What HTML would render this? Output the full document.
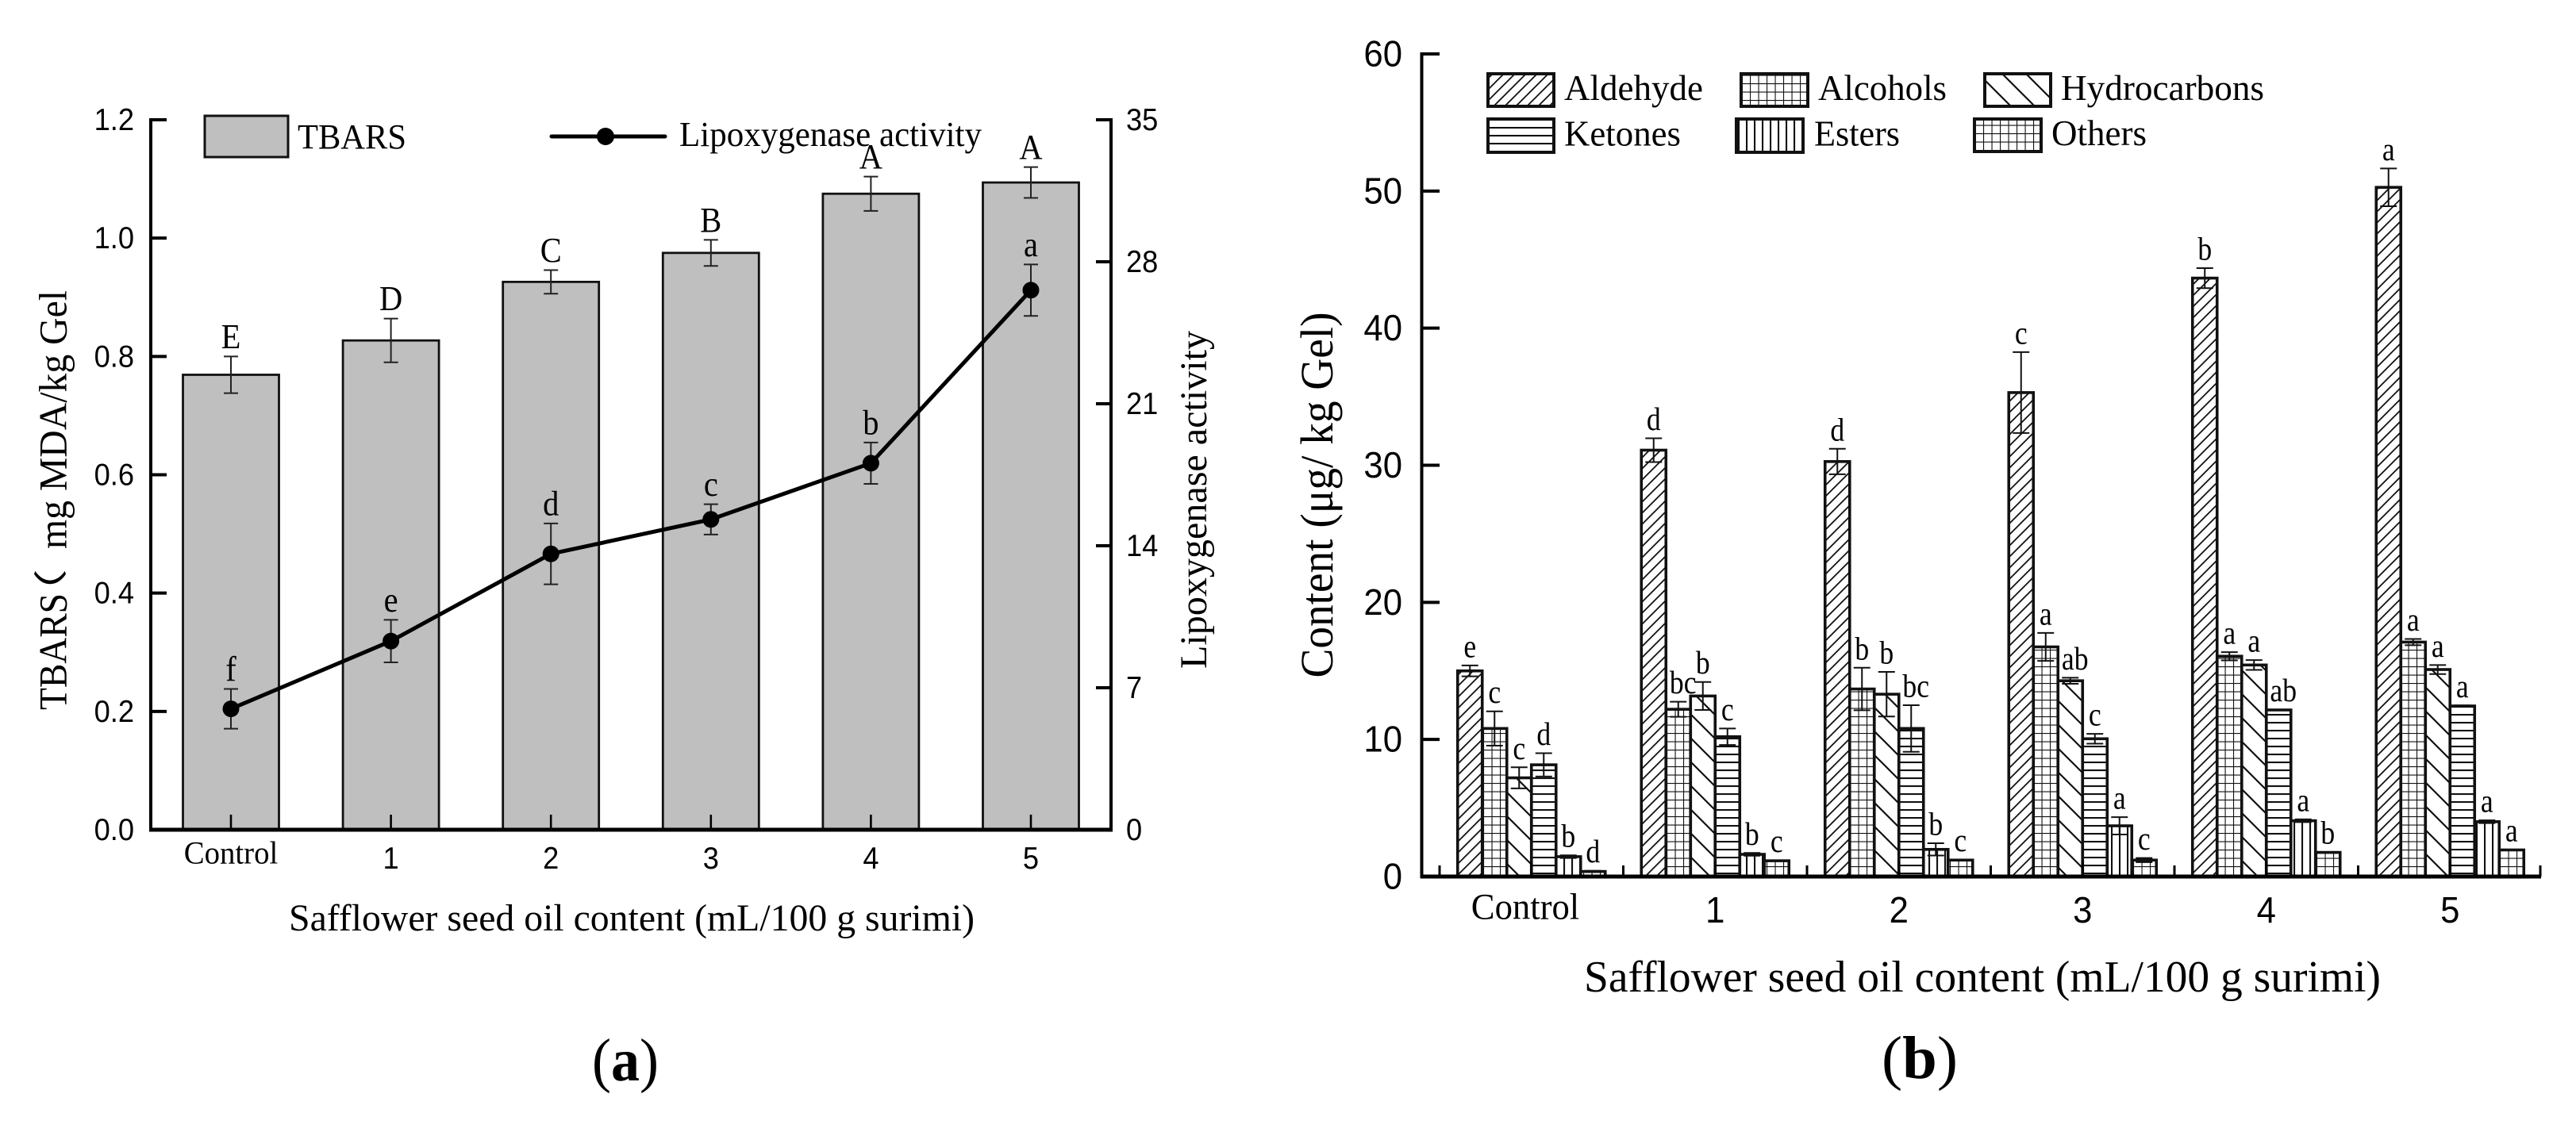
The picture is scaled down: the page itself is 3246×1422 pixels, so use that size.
<!DOCTYPE html>
<html lang="en">
<head>
<meta charset="utf-8">
<title>TBARS, lipoxygenase activity and volatile compound content</title>
<style>
html,body{margin:0;padding:0;background:#fff;}
svg{display:block;}
text{fill:#000;}
.serif{font-family:"Liberation Serif","Noto Serif CJK SC","Noto Sans CJK SC",serif;}
.cjk{font-family:"Liberation Serif","Noto Sans CJK SC",serif;}
.sans{font-family:"Liberation Sans",sans-serif;}
</style>
</head>
<body>
<svg id="figure" xmlns="http://www.w3.org/2000/svg" width="3246" height="1422" viewBox="0 0 3246 1422">
<defs>
<pattern id="p-aldehyde" patternUnits="userSpaceOnUse" width="14" height="14">
<path d="M-3.5 3.5L3.5 -3.5M0 14L14 0M10.5 17.5L17.5 10.5" stroke="#111" stroke-width="1.8" fill="none"/>
</pattern>
<pattern id="p-alcohols" patternUnits="userSpaceOnUse" width="10.5" height="10.5">
<path d="M0 0H10.5M0 0V10.5" stroke="#111" stroke-width="2.2" fill="none"/>
</pattern>
<pattern id="p-hydrocarbons" patternUnits="userSpaceOnUse" width="30" height="30">
<path d="M-7.5 22.5L7.5 37.5M0 0L30 30M22.5 -7.5L37.5 7.5" stroke="#111" stroke-width="2.2" fill="none"/>
</pattern>
<pattern id="p-ketones" patternUnits="userSpaceOnUse" width="10" height="10">
<path d="M0 1H10" stroke="#111" stroke-width="2.2" fill="none"/>
</pattern>
<pattern id="p-esters" patternUnits="userSpaceOnUse" width="10" height="10">
<path d="M1 0V10" stroke="#111" stroke-width="2.2" fill="none"/>
</pattern>
<pattern id="p-others" patternUnits="userSpaceOnUse" width="10.5" height="10.5">
<path d="M0 0H10.5M0 0V10.5" stroke="#111" stroke-width="2.2" fill="none"/>
</pattern>
</defs>
<rect x="0" y="0" width="3246" height="1422" fill="#fff"/>

<g id="chart-a"></g>
<g id="chart-b"></g>

<!-- Chart A static text and legend -->
<g>
<rect x="258" y="146" width="105" height="52" fill="#bfbfbf" stroke="#111" stroke-width="3"/>
<text class="serif" x="375" y="187" font-size="44" textLength="137" lengthAdjust="spacingAndGlyphs">TBARS</text>
<line x1="695" y1="172" x2="838" y2="172" stroke="#000" stroke-width="5" stroke-linecap="round"/>
<circle cx="763" cy="172" r="11" fill="#000"/>
<text class="serif" x="856" y="184" font-size="44" textLength="381" lengthAdjust="spacingAndGlyphs">Lipoxygenase activity</text>
</g>
<g>
<text class="serif" transform="translate(83.5,895) rotate(-90)" font-size="50" textLength="147" lengthAdjust="spacingAndGlyphs">TBARS</text>
<text class="cjk" transform="translate(79,780) rotate(-90) scale(1.5,1)" font-size="42">（</text>
<text class="serif" transform="translate(83.5,692) rotate(-90)" font-size="50" textLength="326" lengthAdjust="spacingAndGlyphs">mg MDA/kg Gel</text>
</g>
<text class="serif" transform="translate(1520,843) rotate(-90)" font-size="48" textLength="426" lengthAdjust="spacingAndGlyphs">Lipoxygenase activity</text>
<text class="serif" x="364" y="1173" font-size="48" textLength="864" lengthAdjust="spacingAndGlyphs">Safflower seed oil content (mL/100 g surimi)</text>
<text class="serif" x="746" y="1362" font-size="76" textLength="84" lengthAdjust="spacingAndGlyphs">(<tspan font-weight="bold">a</tspan>)</text>

<!-- Chart B static text and legend -->
<g>
<rect x="1875" y="93" width="83" height="41" fill="url(#p-aldehyde)" stroke="#111" stroke-width="4"/>
<text class="serif" x="1971" y="126" font-size="46" textLength="175" lengthAdjust="spacingAndGlyphs">Aldehyde</text>
<rect x="2194" y="93" width="84" height="41" fill="url(#p-alcohols)" stroke="#111" stroke-width="4"/>
<text class="serif" x="2291" y="126" font-size="46" textLength="162" lengthAdjust="spacingAndGlyphs">Alcohols</text>
<rect x="2501" y="93" width="83" height="41" fill="url(#p-hydrocarbons)" stroke="#111" stroke-width="4"/>
<text class="serif" x="2597" y="126" font-size="46" textLength="256" lengthAdjust="spacingAndGlyphs">Hydrocarbons</text>
<rect x="1875" y="150" width="83" height="42" fill="url(#p-ketones)" stroke="#111" stroke-width="4"/>
<text class="serif" x="1971" y="183.5" font-size="46" textLength="147" lengthAdjust="spacingAndGlyphs">Ketones</text>
<rect x="2188" y="150" width="84" height="42" fill="url(#p-esters)" stroke="#111" stroke-width="4"/>
<text class="serif" x="2286" y="183.5" font-size="46" textLength="108" lengthAdjust="spacingAndGlyphs">Esters</text>
<rect x="2488" y="150" width="84" height="41" fill="url(#p-others)" stroke="#111" stroke-width="4"/>
<text class="serif" x="2585" y="183" font-size="46" textLength="120" lengthAdjust="spacingAndGlyphs">Others</text>
</g>
<text class="serif" transform="translate(1679,854.5) rotate(-90)" font-size="58" textLength="461" lengthAdjust="spacingAndGlyphs">Content (μg/ kg Gel)</text>
<text class="serif" x="1996" y="1250" font-size="56" textLength="1004" lengthAdjust="spacingAndGlyphs">Safflower seed oil content (mL/100 g surimi)</text>
<text class="serif" x="2371" y="1359" font-size="76" textLength="96" lengthAdjust="spacingAndGlyphs">(<tspan font-weight="bold">b</tspan>)</text>
</svg>

<script>
// ---------- Chart A data ----------
var categoriesA = ['Control', '1', '2', '3', '4', '5'];
var tbarsValues = [0.769, 0.827, 0.926, 0.975, 1.075, 1.094];
var tbarsErrors = [0.031, 0.037, 0.020, 0.022, 0.029, 0.026];
var tbarsLetters = ['E', 'D', 'C', 'B', 'A', 'A'];
var lipoxValues = [5.96, 9.3, 13.6, 15.3, 18.07, 26.6];
var lipoxErrors = [0.98, 1.05, 1.5, 0.75, 1.02, 1.27];
var lipoxLetters = ['f', 'e', 'd', 'c', 'b', 'a'];
var leftTicksA = [0, 0.2, 0.4, 0.6, 0.8, 1.0, 1.2];
var leftTickLabelsA = ['0.0', '0.2', '0.4', '0.6', '0.8', '1.0', '1.2'];
var rightTicksA = [0, 7, 14, 21, 28, 35];
var rightTickLabelsA = ['0', '7', '14', '21', '28', '35'];

// ---------- Chart B data ----------
var categoriesB = ['Control', '1', '2', '3', '4', '5'];
var seriesNames = ['aldehyde', 'alcohols', 'hydrocarbons', 'ketones', 'esters', 'others'];
var aldehydeValues = [15.0, 31.1, 30.27, 35.3, 43.65, 50.27];
var alcoholsValues = [10.8, 12.2, 13.68, 16.75, 16.07, 17.1];
var hydrocarbonsValues = [7.2, 13.17, 13.3, 14.28, 15.43, 15.1];
var ketonesValues = [8.15, 10.2, 10.8, 10.05, 12.15, 12.44];
var estersValues = [1.45, 1.62, 1.98, 3.7, 4.07, 4.0];
var othersValues = [0.37, 1.15, 1.2, 1.2, 1.76, 1.94];
var aldehydeErrors = [0.4, 0.87, 0.93, 2.95, 0.73, 1.38];
var alcoholsErrors = [1.25, 0.55, 1.55, 1.02, 0.3, 0.23];
var hydrocarbonsErrors = [0.77, 1.02, 1.63, 0.22, 0.36, 0.33];
var ketonesErrors = [0.85, 0.6, 1.7, 0.36, 0.03, 0.04];
var estersErrors = [0.1, 0.1, 0.45, 0.63, 0.1, 0.1];
var othersErrors = [0.05, 0.03, 0.03, 0.15, 0.03, 0.03];
var aldehydeLetters = ['e', 'd', 'd', 'c', 'b', 'a'];
var alcoholsLetters = ['c', 'bc', 'b', 'a', 'a', 'a'];
var hydrocarbonsLetters = ['c', 'b', 'b', 'ab', 'a', 'a'];
var ketonesLetters = ['d', 'c', 'bc', 'c', 'ab', 'a'];
var estersLetters = ['b', 'b', 'b', 'a', 'a', 'a'];
var othersLetters = ['d', 'c', 'c', 'c', 'b', 'a'];
var yTicksB = [0, 10, 20, 30, 40, 50, 60];
var yTickLabelsB = ['0', '10', '20', '30', '40', '50', '60'];

var seriesValues = [aldehydeValues, alcoholsValues, hydrocarbonsValues, ketonesValues, estersValues, othersValues];
var seriesErrors = [aldehydeErrors, alcoholsErrors, hydrocarbonsErrors, ketonesErrors, estersErrors, othersErrors];
var seriesLetters = [aldehydeLetters, alcoholsLetters, hydrocarbonsLetters, ketonesLetters, estersLetters, othersLetters];

// ---------- Axis functions ----------
function xA(i) { return 291 + 201.6 * i; }
function yLeftA(v) { return 1046 - (v / 1.2) * 895; }
function yRightA(v) { return 1046 - (v / 35) * 895; }
function xB(i) { return 1814 + 231.5 * (i + 0.5); }
function yB(v) { return 1105 - (v / 60) * 1037; }

var NS = 'http://www.w3.org/2000/svg';
function make(parent, tag, attrs, content) {
  var node = document.createElementNS(NS, tag);
  for (var k in attrs) { node.setAttribute(k, attrs[k]); }
  if (content !== undefined) { node.textContent = content; }
  parent.appendChild(node);
  return node;
}
// Text squeezed horizontally by factor k around its anchor, matching the stretched look of the figure.
function label(parent, x, y, anchor, size, cls, k, content) {
  return make(parent, 'text', {
    transform: 'translate(' + x + ',' + y + ') scale(' + k + ',1)',
    'text-anchor': anchor,
    'font-size': size,
    'class': cls
  }, content);
}
function errorBar(parent, x, yTop, yBottom, halfCap, color) {
  var d = 'M' + (x - halfCap) + ' ' + yTop + 'H' + (x + halfCap) +
          'M' + x + ' ' + yTop + 'V' + yBottom +
          'M' + (x - halfCap) + ' ' + yBottom + 'H' + (x + halfCap);
  return make(parent, 'path', { d: d, stroke: color, 'stroke-width': 2, fill: 'none' });
}

var a = document.getElementById('chart-a');
var b = document.getElementById('chart-b');
var el;

// ---------- Chart A marks ----------
categoriesA.forEach(function (cat, i) {
  var halfW = 60.5;
  var top = yLeftA(tbarsValues[i]);
  el = make(a, 'rect', { x: xA(i) - halfW, y: top, width: 2 * halfW, height: yLeftA(0) - top, fill: '#bfbfbf', stroke: '#111', 'stroke-width': 2.8 });
  
  
  var eTop = yLeftA(tbarsValues[i] + tbarsErrors[i]);
  var eBottom = yLeftA(tbarsValues[i] - tbarsErrors[i]);
  el = errorBar(a, xA(i), eTop, eBottom, 9, '#222');
  
  
  el = label(a, xA(i), eTop - 10.5, 'middle', 44, 'serif', 0.92, tbarsLetters[i]);
  
  
});

var linePoints = lipoxValues.map(function (v, i) { return xA(i) + ',' + yRightA(v); }).join(' ');
el = make(a, 'polyline', { points: linePoints, fill: 'none', stroke: '#000', 'stroke-width': 5, 'stroke-linejoin': 'round' });



categoriesA.forEach(function (cat, i) {
  var eTop = yRightA(lipoxValues[i] + lipoxErrors[i]);
  var eBottom = yRightA(lipoxValues[i] - lipoxErrors[i]);
  el = errorBar(a, xA(i), eTop, eBottom, 9, '#222');
  
  
  el = make(a, 'circle', { cx: xA(i), cy: yRightA(lipoxValues[i]), r: 10.5, fill: '#000' });
  
  
  el = label(a, xA(i), eTop - 10.5, 'middle', 44, 'serif', 0.92, lipoxLetters[i]);
  
  
});

// ---------- Chart A axes ----------
el = make(a, 'line', { x1: 190, y1: yLeftA(1.2) - 2, x2: 190, y2: yLeftA(0) + 2, stroke: '#000', 'stroke-width': 4 });


el = make(a, 'line', { x1: 1400, y1: yRightA(35) - 2, x2: 1400, y2: yRightA(0) + 2, stroke: '#000', 'stroke-width': 4 });


el = make(a, 'line', { x1: 188, y1: yLeftA(0), x2: 1402, y2: yLeftA(0), stroke: '#000', 'stroke-width': 5 });



leftTicksA.forEach(function (t, i) {
  el = make(a, 'line', { x1: 190, y1: yLeftA(t), x2: 210, y2: yLeftA(t), stroke: '#000', 'stroke-width': 4 });
  
  
  el = label(a, 169, yLeftA(t) + 13, 'end', 39, 'sans', 0.93, leftTickLabelsA[i]);
  
  
});
rightTicksA.forEach(function (t, i) {
  el = make(a, 'line', { x1: 1381, y1: yRightA(t), x2: 1400, y2: yRightA(t), stroke: '#000', 'stroke-width': 4 });
  
  
  el = label(a, 1419, yRightA(t) + 13, 'start', 39, 'sans', 0.93, rightTickLabelsA[i]);
  
  
});
categoriesA.forEach(function (cat, i) {
  el = make(a, 'line', { x1: xA(i), y1: yLeftA(0), x2: xA(i), y2: yLeftA(0) - 19, stroke: '#000', 'stroke-width': 2.6 });
  
  
  if (i === 0) {
    el = label(a, xA(i), 1088.5, 'middle', 40, 'serif', 0.97, cat);
  } else {
    el = label(a, xA(i), 1095, 'middle', 39, 'sans', 0.93, cat);
  }
  
  
});

// ---------- Chart B marks ----------
var barW = 31;
categoriesB.forEach(function (cat, g) {
  seriesNames.forEach(function (name, s) {
    var left = xB(g) + (s - 3) * barW;
    var top = yB(seriesValues[s][g]);
    el = make(b, 'rect', { x: left, y: top, width: barW, height: yB(0) - top, fill: 'url(#p-' + name + ')', stroke: '#111', 'stroke-width': 3.6 });
    
    
  });
  seriesNames.forEach(function (name, s) {
    var cx = xB(g) + (s - 3) * barW + barW / 2;
    var eTop = yB(seriesValues[s][g] + seriesErrors[s][g]);
    var eBottom = yB(seriesValues[s][g] - seriesErrors[s][g]);
    el = errorBar(b, cx, eTop, eBottom, 10.5, '#111');
    
    
    var letter = seriesLetters[s][g];
    var dx = letter.length > 1 ? 6 : 0;
    el = label(b, cx + dx, eTop - 10.5, 'middle', 41, 'serif', 0.87, letter);
    
    
  });
});

// ---------- Chart B axes ----------
el = make(b, 'line', { x1: 1791.5, y1: yB(60) - 2, x2: 1791.5, y2: yB(0) + 2, stroke: '#000', 'stroke-width': 4 });


el = make(b, 'line', { x1: 1790, y1: yB(0), x2: 3202, y2: yB(0), stroke: '#000', 'stroke-width': 5 });


yTicksB.forEach(function (t, i) {
  el = make(b, 'line', { x1: 1791.5, y1: yB(t), x2: 1814, y2: yB(t), stroke: '#000', 'stroke-width': 4 });
  
  
  el = label(b, 1767, yB(t) + 15.5, 'end', 46, 'sans', 0.95, yTickLabelsB[i]);
  
  
});
categoriesB.forEach(function (cat, g) {
  el = make(b, 'line', { x1: xB(g) - 115.75, y1: yB(0), x2: xB(g) - 115.75, y2: yB(0) - 14, stroke: '#000', 'stroke-width': 3 });
  
  
  el = make(b, 'line', { x1: xB(g), y1: yB(0), x2: xB(g), y2: yB(0) - 20, stroke: '#000', 'stroke-width': 3 });
  
  
  if (g === 0) {
    el = label(b, 1922, 1158.5, 'middle', 47, 'serif', 0.95, cat);
  } else {
    el = label(b, xB(g), 1163, 'middle', 46, 'sans', 0.95, cat);
  }
  
  
});
el = make(b, 'line', { x1: 3201, y1: yB(0), x2: 3201, y2: yB(0) - 14, stroke: '#000', 'stroke-width': 3 });


</script>
</body>
</html>
